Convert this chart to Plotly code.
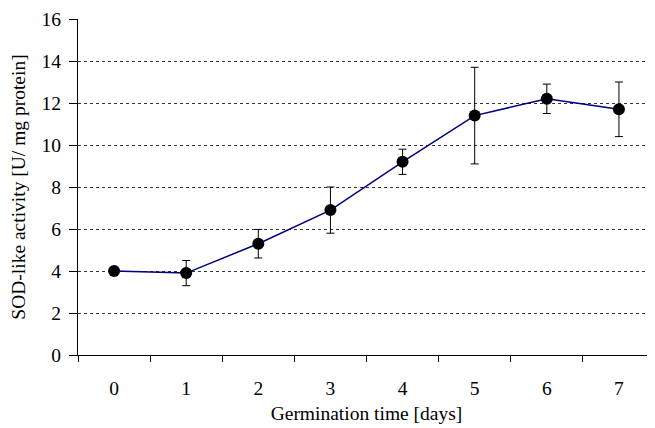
import plotly.graph_objects as go

days = ["0", "1", "2", "3", "4", "5", "6", "7"]
activity = [4.0, 3.9, 5.3, 6.9, 9.2, 11.4, 12.2, 11.7]
errors = [0.0, 0.6, 0.68, 1.1, 0.6, 2.3, 0.7, 1.3]
y_ticks = [0, 2, 4, 6, 8, 10, 12, 14, 16]

FONT = "Liberation Serif, Times New Roman, serif"
tfont = dict(family=FONT, size=19.5, color="black")

fig = go.Figure()
fig.add_trace(go.Scatter(
    x=days, y=activity,
    mode="lines+markers",
    line=dict(color="#000080", width=1.5),
    marker=dict(color="black", size=12),
    error_y=dict(type="data", array=errors, visible=True,
                 color="black", thickness=1, width=4),
    showlegend=False,
))

# page body has an 8px margin, so the figure is sized/offset to compensate
fig.update_layout(
    width=647, height=420,
    margin=dict(l=70, r=0, t=11, b=73),
    plot_bgcolor="white", paper_bgcolor="white",
    font=tfont,
    xaxis=dict(
        type="category",
        range=[-0.5, 7.5],
        showgrid=False,
        showline=True, linecolor="black", linewidth=1,
        ticks="outside", tickson="boundaries", ticklen=6, tickcolor="black",
        tickfont=tfont,
        ticklabelstandoff=16,
        title=dict(text="Germination time [days]", font=tfont, standoff=7),
        automargin=False,
    ),
    yaxis=dict(
        range=[0, 16],
        tickvals=y_ticks,
        showgrid=True, gridcolor="#333333", gridwidth=1, griddash="3px,3px",
        showline=True, linecolor="black", linewidth=1,
        ticks="outside", ticklen=8, tickcolor="black",
        tickfont=tfont,
        ticklabelstandoff=4,
        zeroline=False,
        title=dict(text="SOD-like activity [U/ mg protein]", font=tfont, standoff=10),
        automargin=False,
    ),
)

fig.write_html("out.html")
